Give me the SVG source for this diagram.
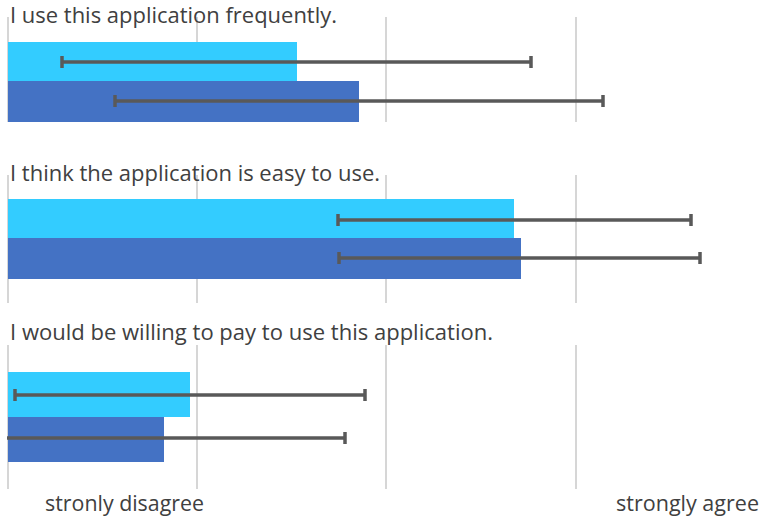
<svg xmlns="http://www.w3.org/2000/svg" width="761" height="518" viewBox="0 0 761 518">
<style>
.t{font-family:"Open Sans","Liberation Sans",sans-serif;font-size:21px;fill:#404040}
.g{stroke:#d6d6d6;stroke-width:2}
.c{fill:#33ccff}
.b{fill:#4472c4}
.e{stroke:#595959;stroke-width:3.5;fill:none}
</style>
<rect width="761" height="518" fill="#fff"/>
<g id="grid">
<path class="g" d="M8,17V122M197,17V122M386,17V122M576,17V122"/>
<path class="g" d="M8,175V303M197,175V303M386,175V303M576,175V303"/>
<path class="g" d="M8,345V489M197,345V489M386,345V489M576,345V489"/>
</g>
<g id="q1">
<text class="t" x="10" y="23" textLength="327" lengthAdjust="spacingAndGlyphs">I use this application frequently.</text>
<rect class="c" x="8" y="42" width="289" height="39"/>
<rect class="b" x="8" y="81" width="351" height="41"/>
</g>
<g id="q2">
<text class="t" x="10" y="181" textLength="370" lengthAdjust="spacingAndGlyphs">I think the application is easy to use.</text>
<rect class="c" x="8" y="199" width="506" height="39"/>
<rect class="b" x="8" y="238" width="513" height="41"/>
</g>
<g id="q3">
<text class="t" x="10" y="340" textLength="483" lengthAdjust="spacingAndGlyphs">I would be willing to pay to use this application.</text>
<rect class="c" x="8" y="372" width="182" height="45"/>
<rect class="b" x="8" y="417" width="156" height="45"/>
</g>
<g id="errorbars">
<path class="e" d="M62,62H531M62,56V68M531,56V68"/>
<path class="e" d="M115,101H603M115,95V107M603,95V107"/>
<path class="e" d="M338,220H691M338,214V226M691,214V226"/>
<path class="e" d="M339,258H700M339,252V264M700,252V264"/>
<path class="e" d="M15,395H365M15,389V401M365,389V401"/>
<path class="e" d="M7,438H345M345,432V444"/>
</g>
<g id="axis-labels">
<text class="t" x="45" y="511" textLength="159" lengthAdjust="spacingAndGlyphs">stronly disagree</text>
<text class="t" x="616" y="511" textLength="143" lengthAdjust="spacingAndGlyphs">strongly agree</text>
</g>
</svg>
